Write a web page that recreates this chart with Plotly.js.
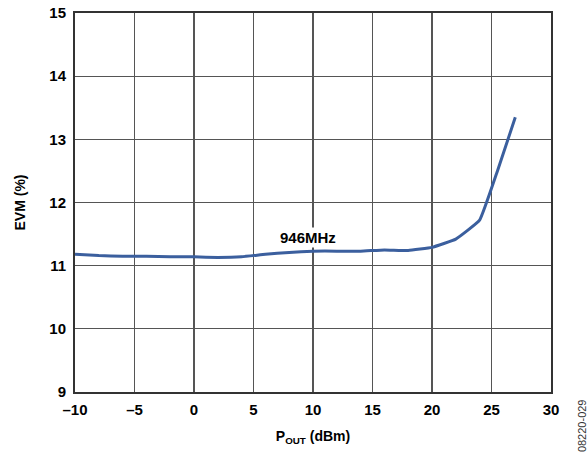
<!DOCTYPE html>
<html>
<head>
<meta charset="utf-8">
<script src="https://cdn.plot.ly/plotly-2.35.2.min.js"></script>
<style>html,body{margin:0;padding:0;background:#fff;}#chart{width:587px;height:454px;}</style>
</head>
<body>
<div id="chart"></div>
<script>
const poutDbm = [-10, -8, -6, -4, -2, 0, 2, 4, 6, 8, 10, 12, 14, 16, 18, 20, 22, 24, 25.5, 27];
const evmPct  = [11.18, 11.16, 11.15, 11.15, 11.14, 11.14, 11.13, 11.14, 11.18, 11.21, 11.23, 11.23, 11.23, 11.25, 11.24, 11.29, 11.42, 11.72, 12.5, 13.35];
const xTickVals = [-10, -5, 0, 5, 10, 15, 20, 25, 30];
const xTickText = ['–10', '–5', '0', '5', '10', '15', '20', '25', '30'];
const yTickVals = [9, 10, 11, 12, 13, 14, 15];
const yTickText = ['9', '10', '11', '12', '13', '14', '15'];
const seriesLabel = '946MHz';
const figureId = '08220-029';

const font = {family: 'Liberation Sans, Arial, sans-serif', color: '#000'};
const gridColor = '#555555';
const L = 75, R = 35.5, T = 12.7, B = 61.7, W = 587, H = 454;
const pw = W - L - R, ph = H - T - B;
const bold = s => '<b>' + s + '</b>';

Plotly.newPlot('chart', [{
  x: poutDbm, y: evmPct, type: 'scatter', mode: 'lines',
  line: {color: '#3B5F9E', width: 3, shape: 'spline', smoothing: 0.3},
  hoverinfo: 'skip'
}], {
  width: W, height: H,
  margin: {l: L, r: R, t: T, b: B},
  paper_bgcolor: '#fff', plot_bgcolor: '#fff',
  showlegend: false,
  font: Object.assign({size: 14}, font),
  xaxis: {
    range: [-10, 30], tickvals: xTickVals, ticktext: xTickText.map(bold),
    showgrid: true, gridcolor: gridColor, gridwidth: 1.2,
    zeroline: false, showline: true, linecolor: '#333', linewidth: 2, mirror: true,
    ticks: '', ticklabelstandoff: 3, tickfont: Object.assign({size: 15}, font),
    title: {text: '<b>P<sub>OUT</sub> (dBm)</b>', font: Object.assign({size: 14}, font), standoff: 14}
  },
  yaxis: {
    range: [9, 15], tickvals: yTickVals, ticktext: yTickText.map(bold),
    showgrid: true, gridcolor: gridColor, gridwidth: 1.2,
    zeroline: false, showline: true, linecolor: '#333', linewidth: 2, mirror: true,
    ticks: '', ticklabelstandoff: 4, tickfont: Object.assign({size: 15}, font),
    title: {text: '<b>EVM (%)</b>', font: Object.assign({size: 14}, font), standoff: 20}
  },
  annotations: [
    {x: 9.6, y: 11.44, xref: 'x', yref: 'y', text: bold(seriesLabel), showarrow: false,
     font: Object.assign({size: 15}, font), bgcolor: '#fff'},
    {x: (582 - L) / pw, y: 1 - (426 - T) / ph, xref: 'paper', yref: 'paper',
     xanchor: 'center', yanchor: 'middle', text: figureId, showarrow: false, textangle: -90,
     font: {family: font.family, size: 11, color: '#333'}}
  ]
}, {staticPlot: true, displayModeBar: false});
</script>
</body>
</html>
